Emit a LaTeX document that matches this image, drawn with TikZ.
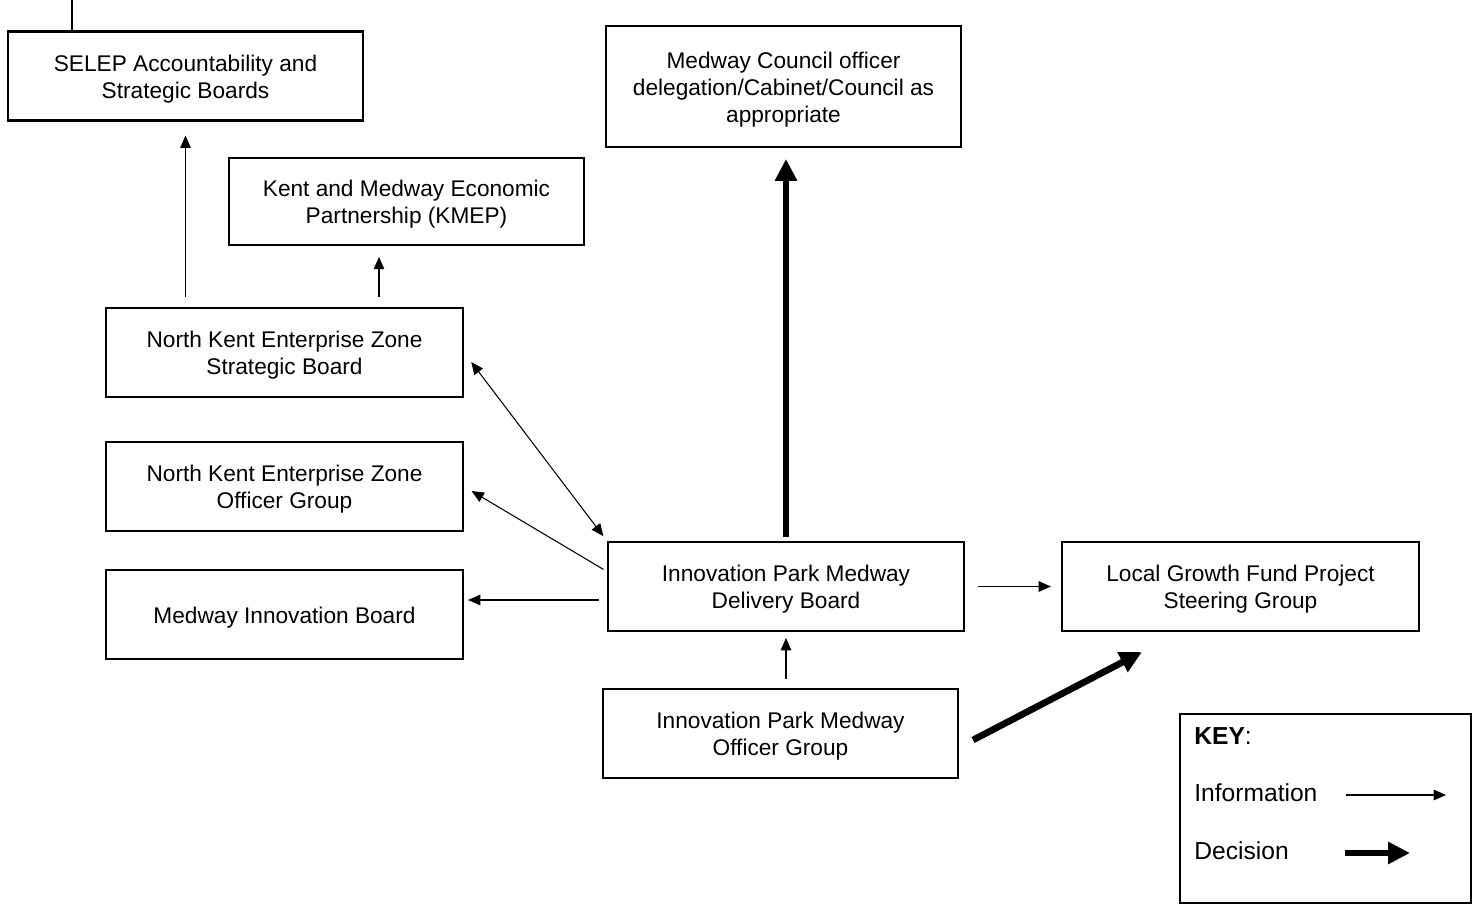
\documentclass[tikz,border=0pt]{standalone}
\usepackage{fontspec}
\setmainfont{Liberation Sans}
\usetikzlibrary{arrows.meta}

\begin{document}
\begin{tikzpicture}[x=0.02cm,y=-0.02cm,
    box/.style={draw,line width=1.2pt,minimum width=7.1cm,minimum height=1.78cm,
      align=center,inner sep=2pt,font=\fontsize{12.9}{15.3}\selectfont,text height=12.8pt},
    twoline/.style={text height=28.1pt},
    threeline/.style={text height=43.4pt},
    keytext/.style={anchor=west,inner sep=0pt,font=\fontsize{14}{16}\selectfont},
    info/.style={line width=0.6pt,-{Triangle[length=7pt,width=6pt]}},
    decision/.style={line width=3.8pt,-{Triangle[length=12.5pt,width=12pt]}}]
    \useasboundingbox (0,0) rectangle (1479,911);

    % boxes
    \node[box,twoline] (sel) at (185.5,76) {SELEP Accountability and\\Strategic Boards};
    \node[box,twoline,minimum height=1.74cm] (kmep) at (406.5,201.5) {Kent and Medway Economic\\Partnership (KMEP)};
    \node[box,threeline,minimum height=2.42cm] (cnl) at (783.5,86.5) {Medway Council officer\\delegation/Cabinet/Council as\\appropriate};
    \node[box,twoline,minimum width=7.14cm] (nks) at (284.5,352.5) {North Kent Enterprise Zone\\Strategic Board};
    \node[box,twoline,minimum width=7.14cm] (nko) at (284.5,486.5) {North Kent Enterprise Zone\\Officer Group};
    \node[box,minimum width=7.14cm] (mib) at (284.5,614.5) {Medway Innovation Board};
    \node[box,twoline,minimum width=7.12cm] (dlv) at (786,586.5) {Innovation Park Medway\\Delivery Board};
    \node[box,twoline,minimum width=7.14cm] (lgf) at (1240.5,586.5) {Local Growth Fund Project\\Steering Group};
    \node[box,twoline] (ofc) at (780.5,733.5) {Innovation Park Medway\\Officer Group};

    % line from above the page
    \coordinate (top) at (72,0);
    \draw[line width=0.6pt] (top) -- (top |- sel.north);

    % information arrows
    \draw[info,shorten <=5.7pt,shorten >=8pt] (sel.south |- nks.north) -- (sel.south);
    \draw[info,shorten <=5.7pt,shorten >=6.2pt] ([xshift=1.89cm]nks.north) -- ([xshift=1.89cm]nks.north |- kmep.south);
    \draw[info,{Triangle[length=7pt,width=6pt]}-{Triangle[length=7pt,width=6pt]},shorten <=6.8pt,shorten >=3.4pt] (nks.east) -- (dlv.north west);
    \draw[info,shorten <=2.3pt,shorten >=5pt] ([yshift=0.3cm]dlv.west) -- (nko.east);
    \draw[info,shorten <=4.5pt,shorten >=2.3pt] ([yshift=-0.27cm]dlv.west) -- ([yshift=-0.27cm]dlv.west -| mib.east);
    \draw[info,shorten <=7.4pt,shorten >=5.7pt] (dlv.east) -- (lgf.west);
    \draw[info,shorten <=5pt,shorten >=3.4pt] (dlv.south |- ofc.north) -- (dlv.south);

    % decision arrows
    \draw[decision,shorten <=2.3pt,shorten >=6.2pt] (dlv.north) -- (dlv.north |- cnl.south);
    \draw[decision] ([xshift=0.28cm,yshift=-0.13cm]ofc.east) -- ([xshift=1.62cm,yshift=-0.4cm]lgf.south west);

    % key
    \node[draw,line width=0.8pt,minimum width=5.82cm,minimum height=3.78cm] (key) at (1325.5,808.5) {};
    \node[keytext] (keyt) at (1194,736) {\textbf{KEY}:};
    \node[keytext] (keyi) at (1194,793) {Information};
    \node[keytext] (keyd) at (1194,851) {Decision};
    \coordinate (ki1) at (1346,795);
    \coordinate (ki2) at (1446,795);
    \coordinate (kd1) at (1345,853);
    \coordinate (kd2) at (1410,853);
    \draw[info] (ki1) -- (ki2);
    \draw[decision] (kd1) -- (kd2);
\end{tikzpicture}
\end{document}
